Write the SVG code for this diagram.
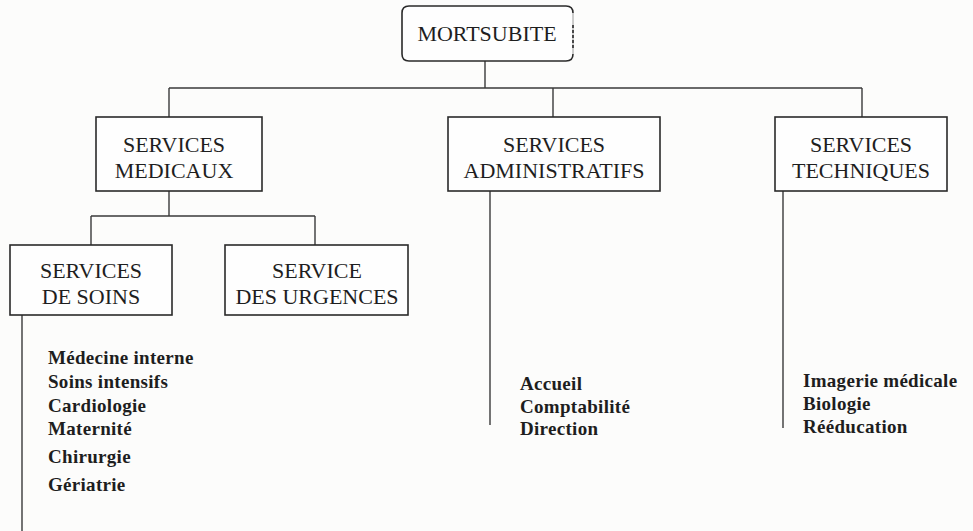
<svg xmlns="http://www.w3.org/2000/svg" width="973" height="531" viewBox="0 0 973 531">
  <style>
    .box { fill: #fefefe; stroke: #2a2a2a; stroke-width: 1.6; }
    .edge { fill: none; stroke: #2a2a2a; stroke-width: 1.6; }
    .wire { fill: none; stroke: #3a3a3a; stroke-width: 1.4; }
    .label { font-family: "Liberation Serif", "Times New Roman", serif; font-size: 22px; fill: #1e1e1e; text-anchor: middle; }
    .item { font-family: "Liberation Serif", "Times New Roman", serif; font-size: 19px; font-weight: bold; letter-spacing: 0.3px; fill: #1e1e1e; }
  </style>
  <rect width="973" height="531" fill="#fcfcfb"/>

  <!-- connectors -->
  <g id="connectors" class="wire">
    <line x1="485" y1="61" x2="485" y2="88"/>
    <line x1="169" y1="88" x2="862" y2="88"/>
    <line x1="169" y1="88" x2="169" y2="117"/>
    <line x1="553" y1="88" x2="553" y2="117"/>
    <line x1="862" y1="88" x2="862" y2="117"/>
    <line x1="169" y1="191" x2="169" y2="216"/>
    <line x1="91" y1="216" x2="315" y2="216"/>
    <line x1="91" y1="216" x2="91" y2="245"/>
    <line x1="315" y1="216" x2="315" y2="245"/>
    <line x1="22" y1="315" x2="22" y2="531"/>
    <line x1="490" y1="191" x2="490" y2="425"/>
    <line x1="783" y1="191" x2="783" y2="428"/>
  </g>

  <g id="mortsubite">
    <rect x="402" y="6" width="171" height="55" rx="7" fill="#fefefe"/>
    <!-- top, left and bottom sides drawn solid; right side faint with a broken middle -->
    <path class="edge" d="M573 13 Q573 6 566 6 L409 6 Q402 6 402 13 L402 54 Q402 61 409 61 L566 61 Q573 61 573 54"/>
    <line x1="573" y1="13" x2="573" y2="54" stroke="#9a9a9a" stroke-width="1"/>
    <line x1="573" y1="25" x2="573" y2="50" stroke="#2a2a2a" stroke-width="1.6" stroke-dasharray="3 2"/>
    <text class="label" x="487" y="41">MORTSUBITE</text>
  </g>

  <g id="services-medicaux">
    <rect class="box" x="96" y="117" width="166" height="74"/>
    <text class="label" x="174" y="152">SERVICES</text>
    <text class="label" x="174" y="178">MEDICAUX</text>
  </g>

  <g id="services-administratifs">
    <rect class="box" x="448" y="117" width="212" height="74"/>
    <text class="label" x="554" y="152">SERVICES</text>
    <text class="label" x="554" y="178">ADMINISTRATIFS</text>
  </g>

  <g id="services-techniques">
    <rect class="box" x="775" y="117" width="172" height="74"/>
    <text class="label" x="861" y="152">SERVICES</text>
    <text class="label" x="861" y="178">TECHNIQUES</text>
  </g>

  <g id="services-de-soins">
    <rect class="box" x="10" y="245" width="162" height="70"/>
    <text class="label" x="91" y="278">SERVICES</text>
    <text class="label" x="91" y="304">DE SOINS</text>
  </g>

  <g id="service-des-urgences">
    <rect class="box" x="225" y="245" width="183" height="70"/>
    <text class="label" x="317" y="278">SERVICE</text>
    <text class="label" x="317" y="304">DES URGENCES</text>
  </g>

  <g id="liste-soins" class="item">
    <text x="48" y="364">Médecine interne</text>
    <text x="48" y="388">Soins intensifs</text>
    <text x="48" y="412">Cardiologie</text>
    <text x="48" y="435">Maternité</text>
    <text x="48" y="463">Chirurgie</text>
    <text x="48" y="491">Gériatrie</text>
  </g>

  <g id="liste-administratifs" class="item">
    <text x="520" y="390">Accueil</text>
    <text x="520" y="413">Comptabilité</text>
    <text x="520" y="435">Direction</text>
  </g>

  <g id="liste-techniques" class="item">
    <text x="803" y="387">Imagerie médicale</text>
    <text x="803" y="410">Biologie</text>
    <text x="803" y="433">Rééducation</text>
  </g>
</svg>
